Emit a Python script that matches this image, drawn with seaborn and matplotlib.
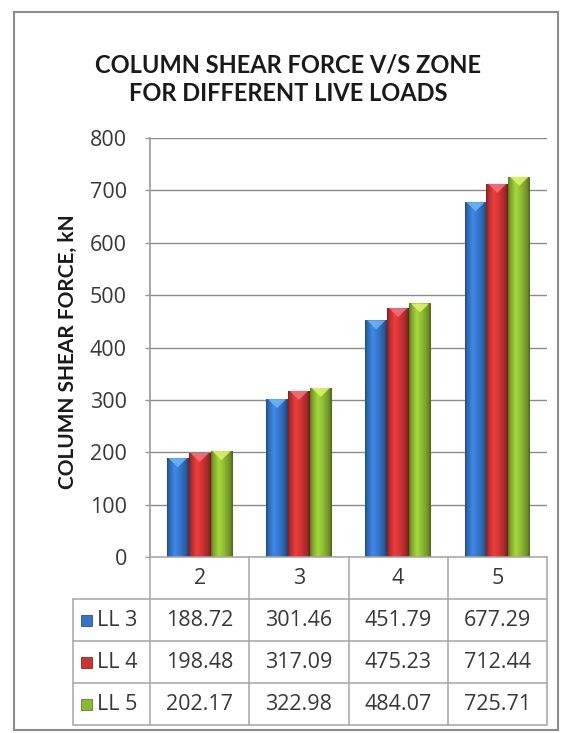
import numpy as np
import pandas as pd
import matplotlib
matplotlib.use("Agg")
import matplotlib.pyplot as plt
import seaborn as sns
from matplotlib.patches import Rectangle, Polygon
from matplotlib.colors import to_rgb

# ---- data -------------------------------------------------------------
zones = ["2", "3", "4", "5"]
series = ["LL 3", "LL 4", "LL 5"]
ll3 = [188.72, 301.46, 451.79, 677.29]
ll4 = [198.48, 317.09, 475.23, 712.44]
ll5 = [202.17, 322.98, 484.07, 725.71]
y_ticks = [0, 100, 200, 300, 400, 500, 600, 700, 800]

title = "COLUMN SHEAR FORCE V/S ZONE\nFOR DIFFERENT LIVE LOADS"
y_label = "COLUMN SHEAR FORCE, kN"

colors = ["#3574c8", "#cc3333", "#8cb832"]
cap_colors = ["#6bb4f5", "#f2707a", "#d8f26a"]

values = [ll3, ll4, ll5]
df = pd.DataFrame({
    "Zone": [z for _ in series for z in zones],
    "Series": [s for s in series for _ in zones],
    "Force": [v for vals in values for v in vals],
})

# ---- figure setup -----------------------------------------------------
sns.set_theme(style="white")
plt.rcParams["font.family"] = ["Open Sans", "DejaVu Sans"]

W, H = 575, 733
fig = plt.figure(figsize=(W / 100, H / 100), dpi=100)
fig.patch.set_facecolor("white")


def px_box(x0, y0, x1, y1):
    return [x0 / W, 1 - y1 / H, (x1 - x0) / W, (y1 - y0) / H]


TEXT_SIZE = 15.5
TEXT_COLOR = "#383838"

PLOT_L, PLOT_R, PLOT_T, PLOT_B = 150, 547, 138, 557
ax = fig.add_axes(px_box(PLOT_L, PLOT_T, PLOT_R, PLOT_B))

sns.barplot(data=df, x="Zone", y="Force", hue="Series", order=zones,
            hue_order=series, palette=colors, saturation=1, width=0.66,
            linewidth=0, legend=False, ax=ax, zorder=3)

ax.set_ylim(0, 800)
ax.set_xlim(-0.5, len(zones) - 0.5)
ax.set_yticks(y_ticks)
ax.set_yticklabels([str(t) for t in y_ticks])
ax.set_xlabel("")
ax.set_ylabel("")
ax.tick_params(axis="x", bottom=False, labelbottom=False)
ax.tick_params(axis="y", left=True, length=3.6, width=1, color="#9a9a9a",
               pad=13, labelsize=TEXT_SIZE, labelcolor=TEXT_COLOR)
for side in ["top", "right", "bottom"]:
    ax.spines[side].set_visible(False)
ax.spines["left"].set_color("#9a9a9a")
ax.spines["left"].set_linewidth(1.2)
ax.yaxis.grid(True, color="#8a8a8a", linewidth=1)
ax.set_axisbelow(True)
ax.set_facecolor("white")

# ---- glossy cylinder shading on each bar -----------------------------
stops_t = [0.0, 0.08, 0.35, 0.6, 0.88, 1.0]
stops_f = [0.62, 0.85, 1.18, 1.02, 0.78, 0.55]
tt = np.linspace(0, 1, 64)
profile = np.interp(tt, stops_t, stops_f)
units_per_px = 800 / (PLOT_B - PLOT_T)

for container, base, cap in zip(ax.containers, colors, cap_colors):
    rgb = np.array(to_rgb(base))
    grad = np.clip(rgb[None, :] * profile[:, None], 0, 1)[None, :, :]
    for bar in container:
        x0, w, h = bar.get_x(), bar.get_width(), bar.get_height()
        bar.set_facecolor("none")
        img = ax.imshow(grad, extent=[x0, x0 + w, 0, h], aspect="auto",
                        interpolation="bilinear", zorder=3)
        img.set_clip_path(bar)
        depth = 9 * units_per_px
        ax.add_patch(Polygon([[x0 + 0.08 * w, h], [x0 + 0.92 * w, h],
                              [x0 + 0.5 * w, h - depth]], closed=True,
                             facecolor=cap, edgecolor="none", alpha=0.9,
                             zorder=4))

ax.set_xlim(-0.5, len(zones) - 0.5)
ax.set_ylim(0, 800)

# ---- data table below the plot ---------------------------------------
TAB_L, TAB_T, TAB_B = 73, 557, 725
col_px = (PLOT_R - PLOT_L) / len(zones)
x_left = -0.5 - (PLOT_L - TAB_L) / col_px
tax = fig.add_axes(px_box(TAB_L, TAB_T, PLOT_R, TAB_B))
tax.set_xlim(x_left, len(zones) - 0.5)
tax.set_ylim(len(series) + 1, 0)
tax.axis("off")

line_kw = dict(color="#a6a6a6", linewidth=1.1, clip_on=False)
n_rows = len(series) + 1
tax.plot([-0.5, len(zones) - 0.5], [0, 0], **line_kw)
for r in range(1, n_rows + 1):
    tax.plot([x_left, len(zones) - 0.5], [r, r], **line_kw)
for c in range(len(zones) + 1):
    tax.plot([c - 0.5, c - 0.5], [0, n_rows], **line_kw)
tax.plot([x_left, x_left], [1, n_rows], **line_kw)

txt_kw = dict(fontsize=TEXT_SIZE, color=TEXT_COLOR, ha="center", va="center")
for i, z in enumerate(zones):
    tax.text(i, 0.5, z, **txt_kw)

row_px = (TAB_B - TAB_T) / n_rows
for r, (name, vals, base) in enumerate(zip(series, values, colors)):
    yc = r + 1.5
    for i, v in enumerate(vals):
        tax.text(i, yc, f"{v:.2f}", **txt_kw)
    kw_ = 11 / col_px
    kh_ = 11 / row_px
    kx = x_left + 8 / col_px
    tax.add_patch(Rectangle((kx, yc - kh_ / 2), kw_, kh_, facecolor=base,
                            edgecolor=np.clip(np.array(to_rgb(base)) * 0.7, 0, 1),
                            linewidth=0.6, clip_on=False))
    tax.text(x_left + 24 / col_px, yc, name, fontsize=TEXT_SIZE,
             color=TEXT_COLOR, ha="left", va="center")

# ---- titles ----------------------------------------------------------
fig.text(288 / W, 1 - 79 / H, title, ha="center", va="center",
         fontsize=17, fontweight="bold", color="#1a1a1a",
         family=["Lato", "DejaVu Sans"], linespacing=1.3)
fig.text(68 / W, 1 - 352 / H, y_label, ha="center", va="center",
         rotation=90, fontsize=15, fontweight="bold", color="#1a1a1a",
         family=["Lato", "DejaVu Sans"])

# outer chart border
fig.add_artist(Rectangle((14 / W, 1 - 730 / H), (558 - 14) / W, (730 - 12) / H,
                         transform=fig.transFigure, fill=False,
                         edgecolor="#8c8c8c", linewidth=1.5))

fig.savefig("out.png", dpi=100)
